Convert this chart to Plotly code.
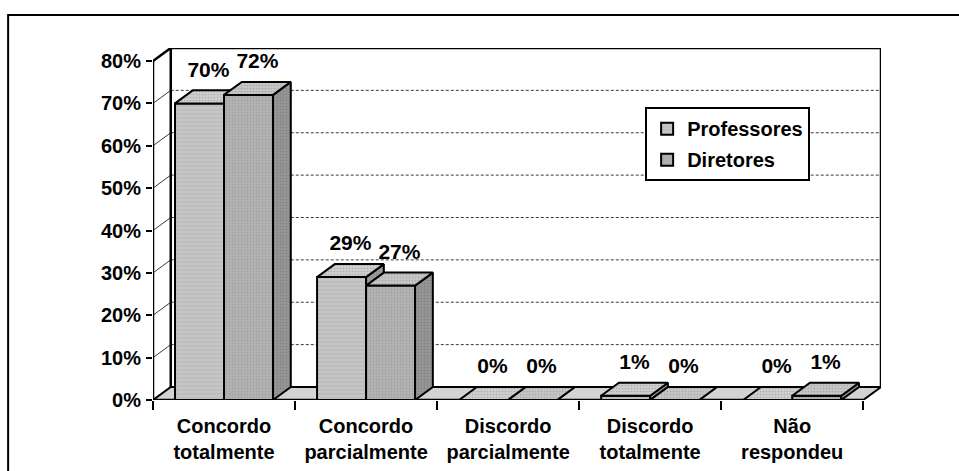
import plotly.graph_objects as go

# ---- data -------------------------------------------------------------
categories = ["Concordo<br>totalmente", "Concordo<br>parcialmente",
              "Discordo<br>parcialmente", "Discordo<br>totalmente",
              "Não<br>respondeu"]
professores = [70, 29, 0, 1, 0]
diretores = [72, 27, 0, 0, 1]
y_ticks = [0, 10, 20, 30, 40, 50, 60, 70, 80]
y_tick_labels = [f"{v}%" for v in y_ticks]

# ---- 3-D box geometry (in axis units) ---------------------------------
DX, DY = 0.125, 3.07          # depth offset of the back plane
W = 0.345                     # width of one bar
XMIN, XMAX = -0.5, len(categories) - 0.5
YMAX = y_ticks[-1]

FONT = dict(family="Arial, Liberation Sans, sans-serif", color="black",
            size=20, weight="bold")
VALUE_FONT = dict(FONT, size=21)

PROF_FRONT, PROF_TOP, PROF_SIDE = "#c6c6c6", "#cfcfcf", "#9e9e9e"
DIR_FRONT, DIR_TOP, DIR_SIDE = "#b4b4b4", "#c6c6c6", "#979797"
FLOOR = "#d3d3d3"

xs = list(range(len(categories)))


def faces(values, offset, color_top, color_side, xa, ya):
    """Top and right-side parallelograms of each bar, as filled outlines."""
    tx, ty, sx, sy = [], [], [], []
    for i, v in zip(xs, values):
        xl = i + offset
        xr = xl + W
        tx += [xl, xr, xr + DX, xl + DX, xl, None]
        ty += [v, v, v + DY, v + DY, v, None]
        sx += [xr, xr, xr + DX, xr + DX, xr, None]
        sy += [0, v, v + DY, DY, 0, None]
    common = dict(mode="lines", fill="toself", hoverinfo="skip",
                  showlegend=False, xaxis=xa, yaxis=ya,
                  line=dict(color="black", width=2))
    side_pat = dict(shape=".", fgcolor="#6e6e6e", bgcolor=color_side,
                    size=3, solidity=0.3)
    top_pat = dict(shape=".", fgcolor="#8a8a8a", bgcolor=color_top,
                   size=3, solidity=0.25)
    return [go.Scatter(x=sx, y=sy, fillcolor=color_side,
                       fillpattern=side_pat, **common),
            go.Scatter(x=tx, y=ty, fillcolor=color_top,
                       fillpattern=top_pat, **common)]


def labels(values, offset, xa, ya):
    return go.Scatter(
        x=[i + offset + W / 2 + DX / 2 for i in xs],
        y=[v + DY for v in values],
        mode="markers+text", text=[f"{v}%" for v in values],
        textposition="top center", textfont=VALUE_FONT,
        marker=dict(size=12, opacity=0), hoverinfo="skip",
        showlegend=False, xaxis=xa, yaxis=ya)


fig = go.Figure()

# Professores: drawn on the base subplot
fig.add_trace(go.Bar(
    x=xs, y=professores, width=W, offset=-W, name="Professores",
    legendgroup="p",
    marker=dict(color=PROF_FRONT, line=dict(color="black", width=2),
                pattern=dict(shape="-", fgcolor="#a9a9a9",
                             bgcolor=PROF_FRONT, size=4, solidity=0.3)),
    xaxis="x", yaxis="y"))
for t in faces(professores, -W, PROF_TOP, PROF_SIDE, "x", "y"):
    fig.add_trace(t)

# Diretores: drawn on an overlaid subplot so it sits in front
fig.add_trace(go.Bar(
    x=xs, y=diretores, width=W, offset=0, name="Diretores",
    legendgroup="d",
    marker=dict(color=DIR_FRONT, line=dict(color="black", width=2),
                pattern=dict(shape=".", fgcolor="#8c8c8c",
                             bgcolor=DIR_FRONT, size=3, solidity=0.3)),
    xaxis="x2", yaxis="y2"))
for t in faces(diretores, 0, DIR_TOP, DIR_SIDE, "x2", "y2"):
    fig.add_trace(t)

fig.add_trace(labels(professores, -W, "x2", "y2"))
fig.add_trace(labels(diretores, 0, "x2", "y2"))

# ---- walls, floor and gridlines --------------------------------------
shapes = []
grid = dict(color="#3c3c3c", width=1, dash="3px,2px")
for v in y_ticks[1:-1]:
    shapes.append(dict(type="line", xref="x", yref="y", layer="below",
                       x0=XMIN + DX, x1=XMAX + DX, y0=v + DY, y1=v + DY,
                       line=grid))
    shapes.append(dict(type="line", xref="x", yref="y", layer="below",
                       x0=XMIN, x1=XMIN + DX, y0=v, y1=v + DY,
                       line=dict(color="#3c3c3c", width=1)))
shapes.append(dict(type="path", xref="x", yref="y", layer="below",
                   path=f"M{XMIN},0 L{XMAX},0 L{XMAX + DX},{DY} "
                        f"L{XMIN + DX},{DY} Z",
                   fillcolor=FLOOR, line=dict(color="black", width=2)))
edge = dict(color="black", width=2.5)
for x0, y0, x1, y1 in [
        (XMIN, 0, XMIN, YMAX),
        (XMIN, YMAX, XMIN + DX, YMAX + DY),
        (XMIN + DX, DY, XMIN + DX, YMAX + DY),
        (XMIN + DX, YMAX + DY, XMAX + DX, YMAX + DY),
        (XMAX + DX, DY, XMAX + DX, YMAX + DY),
        (XMIN, 0, XMAX, 0)]:
    shapes.append(dict(type="line", xref="x", yref="y", layer="below",
                       x0=x0, y0=y0, x1=x1, y1=y1, line=edge))
# outer frame of the chart
shapes.append(dict(type="rect", xref="paper", yref="paper", layer="below",
                   x0=-0.199, x1=1.13, y0=-0.25, y1=1.094,
                   line=dict(color="black", width=2)))

xr = [XMIN, XMAX + DX]
yr = [0, YMAX + DY]
fig.update_layout(
    width=959, height=471,
    margin=dict(l=153, r=78, t=48, b=71),
    paper_bgcolor="white", plot_bgcolor="white",
    barmode="overlay", shapes=shapes,
    font=FONT,
    xaxis=dict(range=xr, tickvals=xs, ticktext=categories, ticks="",
               showgrid=False, zeroline=False, showline=False,
               automargin=False,
               tickfont=FONT, ticklabelstandoff=12,
               minor=dict(tickvals=[i - 0.5 for i in range(len(xs) + 1)],
                          ticks="outside", ticklen=9, tickwidth=2,
                          tickcolor="black", showgrid=False)),
    yaxis=dict(range=yr, tickvals=y_ticks, ticktext=y_tick_labels,
               ticks="outside", ticklen=6, tickwidth=2, tickcolor="black",
               showgrid=False, zeroline=False, showline=False,
               automargin=False,
               tickfont=FONT, ticklabelstandoff=1),
    xaxis2=dict(range=xr, overlaying="x", visible=False),
    yaxis2=dict(range=yr, overlaying="y", visible=False),
    legend=dict(x=0.676, y=0.832, xanchor="left", yanchor="top",
                bgcolor="white", bordercolor="black", borderwidth=2,
                font=FONT, tracegroupgap=2, traceorder="grouped",
                itemwidth=30),
)

fig.write_html("out.html")
